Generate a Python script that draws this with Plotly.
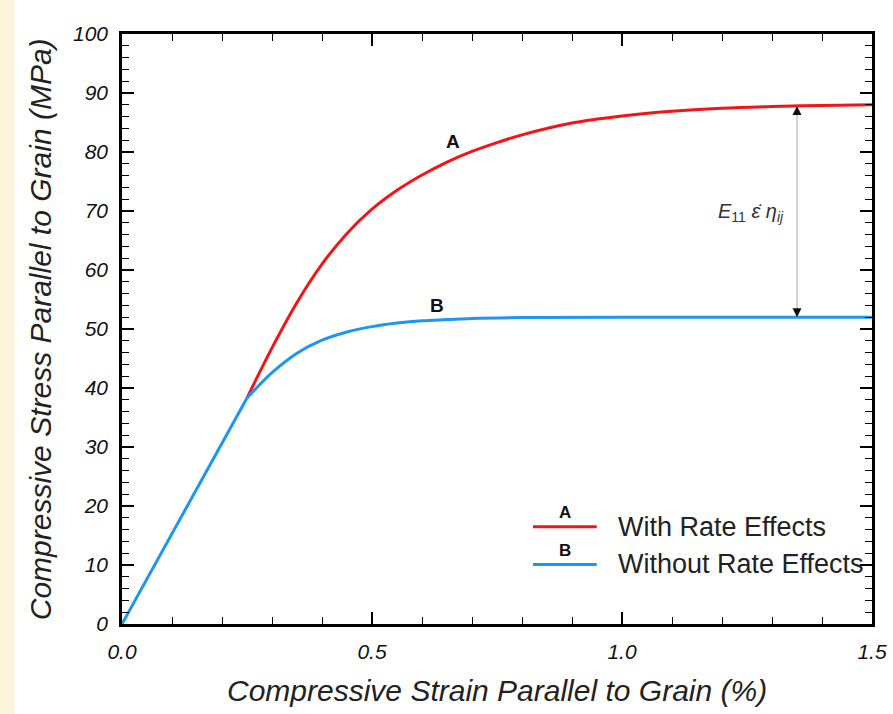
import numpy as np
import plotly.graph_objects as go

# ---- data ----
strain_elastic = [0.0, 0.25]
stress_elastic = [0.0, 38.3]

strain_A = [0.25, 0.30, 0.35, 0.40, 0.45, 0.50, 0.55, 0.60, 0.65, 0.70, 0.75, 0.80,
            0.90, 1.00, 1.10, 1.20, 1.30, 1.40, 1.50]
stress_A = [38.3, 46.8, 54.5, 61.0, 66.2, 70.3, 73.5, 76.1, 78.3, 80.1, 81.6, 82.9,
            84.9, 86.1, 86.9, 87.4, 87.7, 87.9, 88.0]

strain_B = [0.25, 0.30, 0.35, 0.40, 0.45, 0.50, 0.55, 0.60, 0.65, 0.70, 0.80,
            1.00, 1.50]
stress_B = [38.3, 42.6, 45.9, 48.1, 49.5, 50.4, 51.0, 51.4, 51.6, 51.8, 51.95,
            52.0, 52.0]

x_ticks = [0.0, 0.5, 1.0, 1.5]
x_tick_labels = ["0.0", "0.5", "1.0", "1.5"]
y_ticks = [0, 10, 20, 30, 40, 50, 60, 70, 80, 90, 100]

label_A = "With Rate Effects"
label_B = "Without Rate Effects"
arrow_x = 1.35

RED = "#F21515"
BLUE = "#1C96F0"
FONT = "Liberation Sans, Arial, Helvetica, sans-serif"

fig = go.Figure()
fig.add_trace(go.Scatter(x=strain_A, y=stress_A, mode="lines", name=label_A,
                         line=dict(color=RED, width=3, shape="spline", smoothing=1.0),
                         showlegend=False))
fig.add_trace(go.Scatter(x=strain_B, y=stress_B, mode="lines", name=label_B,
                         line=dict(color=BLUE, width=3, shape="spline", smoothing=1.0),
                         showlegend=False))
fig.add_trace(go.Scatter(x=strain_elastic, y=stress_elastic, mode="lines", name="elastic",
                         line=dict(color=BLUE, width=3), showlegend=False))

axis_common = dict(
    showline=True, linecolor="black", linewidth=2.5, mirror="ticks",
    ticks="inside", tickcolor="black", tickwidth=1.5, ticklen=12,
    showgrid=False, zeroline=False, automargin=False,
    tickfont=dict(family=FONT, size=21, color="#111"),
)

fig.update_xaxes(range=[0, 1.5], tickvals=x_ticks,
                 ticktext=[f"<i>{t}</i>" for t in x_tick_labels],
                 minor=dict(dtick=0.1, ticks="inside", ticklen=7, tickwidth=1.2, tickcolor="black"),
                 ticklabelstandoff=7, **axis_common)
fig.update_yaxes(range=[0, 100], tickvals=y_ticks,
                 ticktext=[f"<i>{v}</i>" for v in y_ticks],
                 minor=dict(dtick=2, ticks="inside", ticklen=7, tickwidth=1.2, tickcolor="black"),
                 ticklabelstandoff=7, **axis_common)

annotations = []
# axis titles
annotations.append(dict(text="<i>Compressive Strain Parallel to Grain (%)</i>",
                        xref="paper", yref="paper", x=0.5, y=-0.112,
                        xanchor="center", yanchor="middle", showarrow=False,
                        font=dict(family=FONT, size=30, color="#222")))
annotations.append(dict(text="<i>Compressive Stress Parallel to Grain (MPa)</i>",
                        xref="paper", yref="paper", x=-0.109, y=0.5, textangle=-90,
                        xanchor="center", yanchor="middle", showarrow=False,
                        font=dict(family=FONT, size=30, color="#222")))
# curve labels
annotations.append(dict(text="<b>A</b>", x=0.662, y=81.8, xref="x", yref="y",
                        showarrow=False, font=dict(family=FONT, size=19, color="#111")))
annotations.append(dict(text="<b>B</b>", x=0.63, y=54.0, xref="x", yref="y",
                        showarrow=False, font=dict(family=FONT, size=19, color="#111")))
# rate-effect annotation
top_y = float(np.interp(arrow_x, strain_A, stress_A))
bot_y = float(np.interp(arrow_x, strain_B, stress_B))
annotations.append(dict(text="<i>E</i><sub>11</sub> <i>ε̇</i> <i>η</i><sub><i>ij</i></sub>",
                        x=1.257, y=69.8, xref="x", yref="y", showarrow=False,
                        font=dict(family=FONT, size=20, color="#333")))
annotations.append(dict(x=arrow_x, y=top_y, xref="x", yref="y", ax=0, ay=10,
                        showarrow=True, arrowhead=2, arrowsize=0.9, arrowwidth=2,
                        arrowcolor="#111", text=""))
annotations.append(dict(x=arrow_x, y=bot_y, xref="x", yref="y", ax=0, ay=-10,
                        showarrow=True, arrowhead=2, arrowsize=0.9, arrowwidth=2,
                        arrowcolor="#111", text=""))

# custom legend
leg_x0, leg_x1 = 0.548, 0.633
leg_rows = [(label_A, "A", RED, 0.165), (label_B, "B", BLUE, 0.101)]
shapes = []
for text, tag, col, yy in leg_rows:
    shapes.append(dict(type="line", xref="paper", yref="paper",
                       x0=leg_x0, x1=leg_x1, y0=yy, y1=yy,
                       line=dict(color=col, width=3)))
    annotations.append(dict(text=f"<b>{tag}</b>", xref="paper", yref="paper",
                            x=(leg_x0 + leg_x1) / 2, y=yy + 0.024,
                            xanchor="center", yanchor="middle", showarrow=False,
                            font=dict(family=FONT, size=17, color="#111")))
    annotations.append(dict(text=text, xref="paper", yref="paper",
                            x=0.658, y=yy, xanchor="left", yanchor="middle",
                            showarrow=False,
                            font=dict(family=FONT, size=27, color="#222")))

# vertical thin line between the arrowheads
shapes.append(dict(type="line", xref="x", yref="y", x0=arrow_x, x1=arrow_x,
                   y0=bot_y, y1=top_y, line=dict(color="#aaaaaa", width=1)))
# cream strip at the left edge of the scan
shapes.append(dict(type="rect", xref="paper", yref="paper", x0=-0.163, x1=-0.143,
                   y0=-0.2, y1=1.1, fillcolor="#FBF5DC", line=dict(width=0),
                   layer="below"))

fig.update_layout(
    width=893, height=714,
    margin=dict(l=122, r=21, t=34, b=90),
    paper_bgcolor="white", plot_bgcolor="white",
    annotations=annotations, shapes=shapes,
    font=dict(family=FONT),
)

fig.write_html("out.html", config={"displayModeBar": False},
               post_script="document.body.style.margin='0';document.body.style.padding='0';")
